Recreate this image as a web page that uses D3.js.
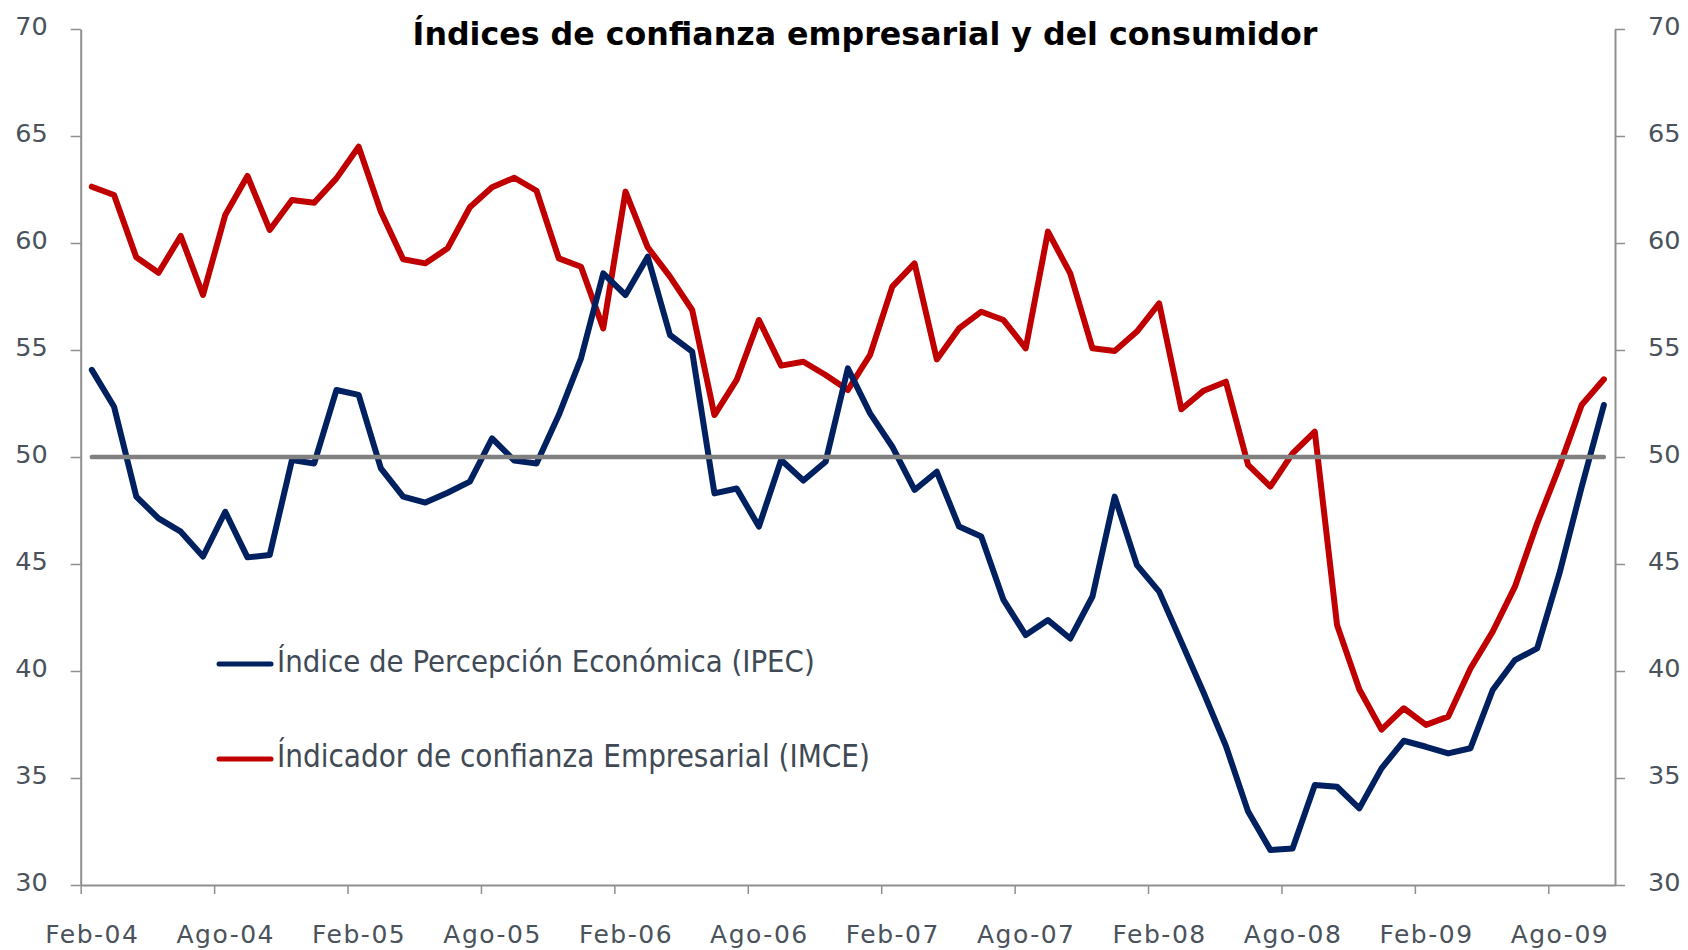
<!DOCTYPE html>
<html>
<head>
<meta charset="utf-8">
<script src="https://cdn.jsdelivr.net/npm/d3@7"></script>
<style>
  html, body { margin: 0; padding: 0; background: #ffffff; }
  svg { display: block; }
</style>
</head>
<body>
<svg id="chart" width="1688" height="950"></svg>
<script>
// ---- Data ----
const monthNames = ["Ene","Feb","Mar","Abr","May","Jun","Jul","Ago","Sep","Oct","Nov","Dic"];
const startYear = 2004, startMonth = 1, nMonths = 69; // Feb-04 .. Oct-09
const categories = d3.range(nMonths).map(i => {
  const m = (startMonth + i) % 12;
  const yr = startYear + Math.floor((startMonth + i) / 12);
  return monthNames[m] + "-" + String(yr % 100).padStart(2, "0");
});

const ipec = [54.07,52.35,48.15,47.13,46.51,45.35,47.44,45.31,45.42,49.86,
              49.70,53.13,52.90,49.47,48.15,47.87,48.33,48.85,50.87,49.83,
              49.70,51.96,54.61,58.58,57.57,59.36,55.70,54.92,48.30,48.53,
              46.75,49.86,48.90,49.78,54.14,52.04,50.48,48.46,49.31,46.75,
              46.28,43.32,41.68,42.38,41.52,43.48,48.15,44.95,43.71,41.35,
              38.98,36.50,33.43,31.64,31.71,34.67,34.59,33.58,35.45,36.74,
              36.46,36.15,36.39,39.11,40.51,41.06,44.56,48.60,52.43];

const imce = [62.63,62.24,59.33,58.61,60.33,57.57,61.31,63.13,60.61,62.01,
              61.88,63.02,64.50,61.46,59.24,59.05,59.75,61.67,62.60,63.05,
              62.44,59.28,58.89,56.01,62.40,59.80,58.43,56.87,51.96,53.60,
              56.40,54.27,54.45,53.83,53.13,54.77,57.96,59.05,54.56,56.01,
              56.79,56.40,55.08,60.53,58.58,55.08,54.95,55.86,57.18,52.23,
              53.10,53.52,49.63,48.62,50.17,51.18,42.15,39.15,37.26,38.26,
              37.48,37.87,40.12,41.84,43.94,46.90,49.55,52.43,53.63];

const neutral = categories.map(() => 50);

const yTicks = [30,35,40,45,50,55,60,65,70];
const labelEvery = 6;

const titleText = "Índices de confianza empresarial y del consumidor";
const seriesNames = ["Índice de Percepción Económica (IPEC)", "Índicador de confianza Empresarial (IMCE)"];

// ---- Layout ----
const svg = d3.select("#chart");
const plotLeft = 80.7, plotRight = 1615, plotTop = 29, plotBottom = 885;
const axisColor = "#8f8f8f";
const textColor = "#4a525b";
const fontFam = "'DejaVu Sans', Verdana, sans-serif";
const condFam = "'DejaVu Sans Condensed', 'DejaVu Sans', sans-serif";

// scale a text's font size so its width matches a target width
function fitWidth(sel, target) {
  const node = sel.node();
  const fs = parseFloat(sel.style("font-size"));
  const w = node.getComputedTextLength();
  if (w > 0) sel.style("font-size", (fs * target / w).toFixed(2) + "px");
}

const x = d3.scaleLinear().domain([-0.5, nMonths - 0.5]).range([plotLeft, plotRight]);
const y = d3.scaleLinear().domain([30, 70]).range([plotBottom, plotTop]);

// Left axis
const gL = svg.append("g").attr("transform", `translate(${plotLeft},0)`)
  .call(d3.axisLeft(y).tickValues(yTicks).tickSize(10).tickSizeOuter(0).tickPadding(23));
// Right axis
const gR = svg.append("g").attr("transform", `translate(${plotRight},0)`)
  .call(d3.axisRight(y).tickValues(yTicks).tickSize(10).tickSizeOuter(0).tickPadding(23));
[gL, gR].forEach(g => {
  g.select(".domain").attr("stroke", axisColor).attr("stroke-width", 2);
  g.selectAll(".tick line").attr("stroke", axisColor).attr("stroke-width", 1.5);
  g.selectAll(".tick text").attr("fill", textColor).style("font-family", fontFam)
    .style("font-size", "25.5px").attr("dy", "0.2em");
});

// Bottom axis: tick marks at category boundaries every 6 months
const boundaryTicks = d3.range(0, nMonths, labelEvery).map(i => i - 0.5);
const gB = svg.append("g").attr("transform", `translate(0,${plotBottom})`)
  .call(d3.axisBottom(x).tickValues(boundaryTicks).tickSize(9).tickSizeOuter(0).tickFormat(""));
gB.select(".domain").attr("stroke", axisColor).attr("stroke-width", 2);
gB.selectAll(".tick line").attr("stroke", axisColor).attr("stroke-width", 1.5);

// Bottom labels centered on category
const labelIdx = d3.range(0, nMonths, labelEvery);
const gBL = svg.append("g").attr("transform", `translate(0,${plotBottom})`)
  .call(d3.axisBottom(x).tickValues(labelIdx).tickSize(0).tickPadding(0)
    .tickFormat(i => categories[i]));
gBL.select(".domain").remove();
gBL.selectAll(".tick text").attr("fill", textColor).style("font-family", fontFam)
  .style("font-size", "25px").style("letter-spacing", "1.5px")
  .attr("y", 58).attr("dy", 0);

// Lines
const line = d3.line().x((d, i) => x(i)).y(d => y(d));
svg.append("path").datum(imce).attr("d", line)
  .attr("fill", "none").attr("stroke", "#c00000").attr("stroke-width", 6)
  .attr("stroke-linejoin", "round").attr("stroke-linecap", "round");
svg.append("path").datum(ipec).attr("d", line)
  .attr("fill", "none").attr("stroke", "#002060").attr("stroke-width", 6)
  .attr("stroke-linejoin", "round").attr("stroke-linecap", "round");
svg.append("path").datum(neutral).attr("d", line)
  .attr("fill", "none").attr("stroke", "#808080").attr("stroke-width", 4.5)
  .attr("stroke-linecap", "round");

// Title
const title = svg.append("text").attr("x", 865).attr("y", 45).attr("text-anchor", "middle")
  .style("font-family", fontFam).style("font-weight", "bold").style("font-size", "31px")
  .attr("fill", "#000").text(titleText);
fitWidth(title, 905);

// Legend
const legendColors = ["#002060", "#c00000"];
const legendY = [664, 759];
const legendWidths = [538, 593];
seriesNames.forEach((name, k) => {
  svg.append("line").attr("x1", 219).attr("x2", 271)
    .attr("y1", legendY[k]).attr("y2", legendY[k])
    .attr("stroke", legendColors[k]).attr("stroke-width", 5).attr("stroke-linecap", "round");
  const t = svg.append("text").attr("x", 277).attr("y", legendY[k] + 8)
    .style("font-family", condFam).style("font-size", "29px")
    .attr("fill", "#404a55").text(name);
  fitWidth(t, legendWidths[k]);
});
</script>
</body>
</html>
